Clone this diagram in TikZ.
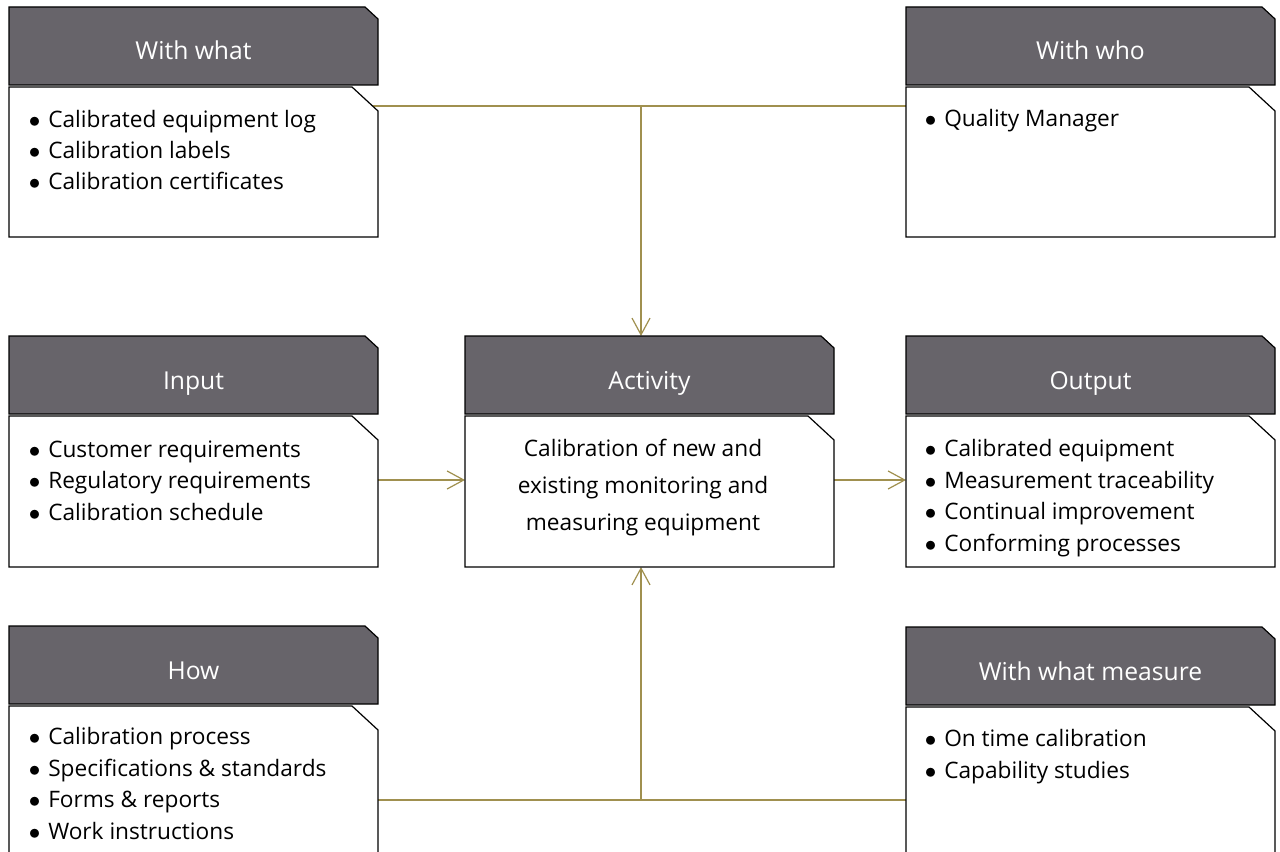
\documentclass[tikz,border=0pt]{standalone}
\usepackage{fontspec}
\setmainfont{Open Sans}
\usetikzlibrary{arrows.meta}
\definecolor{hdrfill}{HTML}{67646A}
\definecolor{conncol}{HTML}{A0904F}
\tikzset{
  hdrshape/.style={fill=hdrfill,draw=black,line width=0.9pt},
  bodyshape/.style={fill=white,draw=black,line width=0.9pt},
  hdrtext/.style={anchor=base,inner sep=0pt,text=white,font=\fontsize{18.5}{22}\selectfont},
  listtext/.style={anchor=base west,inner sep=0pt,align=left,font=\fontsize{17}{23.6}\selectfont},
  acttext/.style={anchor=base,inner sep=0pt,align=center,font=\fontsize{17}{27.75}\selectfont},
  conn/.style={draw=conncol,line width=0.9pt},
  connarrow/.style={conn,-{Straight Barb[length=12.5pt,width=13.5pt,line width=0.9pt]}},
}
\newcommand\bul{\makebox[13.5pt][l]{\hspace{-1pt}$\bullet$}}
% #1 name, #2 left x, #3 top y, #4 body bottom y, #5 title
\newcommand\ipobox[5]{%
  \draw[hdrshape] (#2,#3) -- ({#2+356},#3) -- ({#2+369},{#3+12}) -- ({#2+369},{#3+78}) -- (#2,{#3+78}) -- cycle;
  \draw[bodyshape] (#2,{#3+80}) -- ({#2+343},{#3+80}) -- ({#2+369},{#3+104}) -- ({#2+369},#4) -- (#2,#4) -- cycle;
  \node[hdrtext] (#1-title) at ({#2+184.5},{#3+53}) {#5};
  \coordinate (#1-body) at (#2,{#3+80});
}
\begin{document}
\begin{tikzpicture}[x=0.75pt,y=-0.75pt]
\useasboundingbox (0,0) rectangle (1280,852);
\clip (0,0) rectangle (1280,852);
\fill[white] (0,0) rectangle (1280,852);

% connectors (behind boxes)
\coordinate (jtop) at (641,106);
\coordinate (jbot) at (641,800);
\coordinate (wwhat-tap) at (372,106);
\coordinate (wwho-tap) at (906,106);
\coordinate (how-tap) at (378,800);
\coordinate (meas-tap) at (906,800);
\coordinate (in-tap) at (378,480);
\coordinate (act-w) at (465,480);
\coordinate (act-e) at (834,480);
\coordinate (out-tap) at (906,480);
\coordinate (act-n) at (641,336);
\coordinate (act-s) at (641,567);
\draw[conn] (wwhat-tap) -- (wwho-tap);
\draw[connarrow] (jtop) -- (act-n);
\draw[conn] (how-tap) -- (meas-tap);
\draw[connarrow] (jbot) -- (act-s);
\draw[connarrow] (in-tap) -- (act-w);
\draw[connarrow] (act-e) -- (out-tap);

\ipobox{wwhat}{9}{7}{237}{With what}
\ipobox{wwho}{906}{7}{237}{With who}
\ipobox{in}{9}{336}{567}{Input}
\ipobox{act}{465}{336}{567}{Activity}
\ipobox{out}{906}{336}{567}{Output}
\ipobox{how}{9}{626}{900}{How}
\ipobox{meas}{906}{627}{900}{With what measure}

% base anchor = baseline of the last line
\node[listtext] (wwhat-list) at (30,190) {\bul Calibrated equipment log\\\bul Calibration labels\\\bul Calibration certificates};
\node[listtext] (wwho-list) at (926,127) {\bul Quality Manager};
\node[listtext] (in-list) at (30,520) {\bul Customer requirements\\\bul Regulatory requirements\\\bul Calibration schedule};
\node[acttext] (act-text) at (643,530) {Calibration of new and\\existing monitoring and\\measuring equipment};
\node[listtext] (out-list) at (926,551) {\bul Calibrated equipment\\\bul Measurement traceability\\\bul Continual improvement\\\bul Conforming processes};
\node[listtext] (how-list) at (30,839) {\bul Calibration process\\\bul Specifications \& standards\\\bul Forms \& reports\\\bul Work instructions};
\node[listtext] (meas-list) at (926,778) {\bul On time calibration\\\bul Capability studies};
\end{tikzpicture}
\end{document}
